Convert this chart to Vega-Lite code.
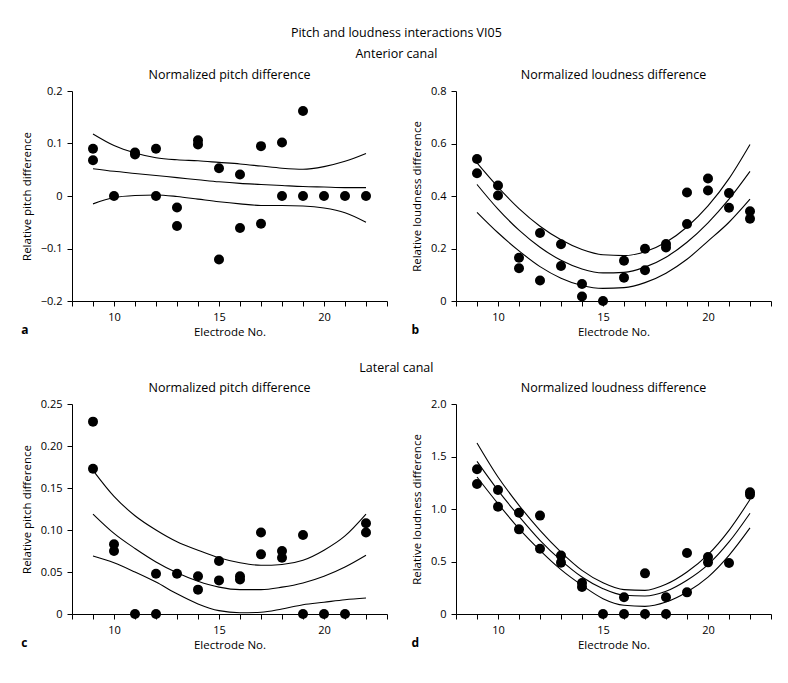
{
  "$schema": "https://vega.github.io/schema/vega-lite/v6.json",
  "padding": {"left": 21, "top": 26, "right": 5, "bottom": 5},
  "background": "white",
  "title": {"text": "Pitch and loudness interactions VI05", "anchor": "middle", "fontSize": 12.5, "fontWeight": "normal", "offset": 9},
  "config": {
    "font": "Open Sans",
    "view": {"stroke": null},
    "axis": {"grid": false, "domainColor": "black", "tickColor": "black", "labelColor": "black", "titleColor": "black", "titleFontWeight": "normal", "labelFontSize": 11, "titleFontSize": 11.5, "tickSize": 5, "labelPadding": 5, "labelFont": "Open Sans", "titleFont": "Open Sans", "domainWidth": 1, "tickWidth": 1},
    "axisY": {"titlePadding": 8},
    "title": {"font": "Open Sans", "fontSize": 12.5, "fontWeight": "normal", "color": "black", "anchor": "middle"}
  },
  "datasets": {
    "a_pts": [
      {"electrode": 9, "value": 0.090}, {"electrode": 9, "value": 0.068},
      {"electrode": 10, "value": 0},
      {"electrode": 11, "value": 0.083}, {"electrode": 11, "value": 0.079},
      {"electrode": 12, "value": 0.090}, {"electrode": 12, "value": 0},
      {"electrode": 13, "value": -0.022}, {"electrode": 13, "value": -0.057},
      {"electrode": 14, "value": 0.106}, {"electrode": 14, "value": 0.098},
      {"electrode": 15, "value": 0.053}, {"electrode": 15, "value": -0.121},
      {"electrode": 16, "value": 0.041}, {"electrode": 16, "value": -0.061},
      {"electrode": 17, "value": 0.095}, {"electrode": 17, "value": -0.053},
      {"electrode": 18, "value": 0.102}, {"electrode": 18, "value": 0},
      {"electrode": 19, "value": 0.162}, {"electrode": 19, "value": 0},
      {"electrode": 20, "value": 0},
      {"electrode": 21, "value": 0},
      {"electrode": 22, "value": 0}
    ],
    "a_fit": [
      {"electrode": 9, "value": 0.118, "band": "upper"}, {"electrode": 10, "value": 0.096, "band": "upper"}, {"electrode": 11, "value": 0.082, "band": "upper"}, {"electrode": 12, "value": 0.073, "band": "upper"}, {"electrode": 13, "value": 0.069, "band": "upper"}, {"electrode": 14, "value": 0.067, "band": "upper"}, {"electrode": 15, "value": 0.064, "band": "upper"}, {"electrode": 16, "value": 0.061, "band": "upper"}, {"electrode": 17, "value": 0.057, "band": "upper"}, {"electrode": 18, "value": 0.053, "band": "upper"}, {"electrode": 19, "value": 0.051, "band": "upper"}, {"electrode": 20, "value": 0.056, "band": "upper"}, {"electrode": 21, "value": 0.066, "band": "upper"}, {"electrode": 22, "value": 0.081, "band": "upper"},
      {"electrode": 9, "value": 0.052, "band": "mean"}, {"electrode": 10, "value": 0.047, "band": "mean"}, {"electrode": 11, "value": 0.043, "band": "mean"}, {"electrode": 12, "value": 0.039, "band": "mean"}, {"electrode": 13, "value": 0.035, "band": "mean"}, {"electrode": 14, "value": 0.031, "band": "mean"}, {"electrode": 15, "value": 0.027, "band": "mean"}, {"electrode": 16, "value": 0.024, "band": "mean"}, {"electrode": 17, "value": 0.022, "band": "mean"}, {"electrode": 18, "value": 0.020, "band": "mean"}, {"electrode": 19, "value": 0.018, "band": "mean"}, {"electrode": 20, "value": 0.017, "band": "mean"}, {"electrode": 21, "value": 0.016, "band": "mean"}, {"electrode": 22, "value": 0.016, "band": "mean"},
      {"electrode": 9, "value": -0.015, "band": "lower"}, {"electrode": 10, "value": -0.003, "band": "lower"}, {"electrode": 11, "value": 0.001, "band": "lower"}, {"electrode": 12, "value": 0.002, "band": "lower"}, {"electrode": 13, "value": -0.001, "band": "lower"}, {"electrode": 14, "value": -0.006, "band": "lower"}, {"electrode": 15, "value": -0.011, "band": "lower"}, {"electrode": 16, "value": -0.015, "band": "lower"}, {"electrode": 17, "value": -0.018, "band": "lower"}, {"electrode": 18, "value": -0.018, "band": "lower"}, {"electrode": 19, "value": -0.019, "band": "lower"}, {"electrode": 20, "value": -0.023, "band": "lower"}, {"electrode": 21, "value": -0.032, "band": "lower"}, {"electrode": 22, "value": -0.050, "band": "lower"}
    ],
    "b_pts": [
      {"electrode": 9, "value": 0.541}, {"electrode": 9, "value": 0.487},
      {"electrode": 10, "value": 0.440}, {"electrode": 10, "value": 0.402},
      {"electrode": 11, "value": 0.165}, {"electrode": 11, "value": 0.125},
      {"electrode": 12, "value": 0.259}, {"electrode": 12, "value": 0.078},
      {"electrode": 13, "value": 0.216}, {"electrode": 13, "value": 0.133},
      {"electrode": 14, "value": 0.065}, {"electrode": 14, "value": 0.017},
      {"electrode": 15, "value": 0},
      {"electrode": 16, "value": 0.153}, {"electrode": 16, "value": 0.089},
      {"electrode": 17, "value": 0.199}, {"electrode": 17, "value": 0.117},
      {"electrode": 18, "value": 0.217}, {"electrode": 18, "value": 0.204},
      {"electrode": 19, "value": 0.413}, {"electrode": 19, "value": 0.293},
      {"electrode": 20, "value": 0.467}, {"electrode": 20, "value": 0.421},
      {"electrode": 21, "value": 0.411}, {"electrode": 21, "value": 0.355},
      {"electrode": 22, "value": 0.342}, {"electrode": 22, "value": 0.313}
    ],
    "b_fit": [
      {"electrode": 9, "value": 0.526, "band": "upper"}, {"electrode": 10, "value": 0.434, "band": "upper"}, {"electrode": 11, "value": 0.352, "band": "upper"}, {"electrode": 12, "value": 0.285, "band": "upper"}, {"electrode": 13, "value": 0.233, "band": "upper"}, {"electrode": 14, "value": 0.196, "band": "upper"}, {"electrode": 15, "value": 0.176, "band": "upper"}, {"electrode": 16, "value": 0.173, "band": "upper"}, {"electrode": 17, "value": 0.188, "band": "upper"}, {"electrode": 18, "value": 0.224, "band": "upper"}, {"electrode": 19, "value": 0.282, "band": "upper"}, {"electrode": 20, "value": 0.362, "band": "upper"}, {"electrode": 21, "value": 0.466, "band": "upper"}, {"electrode": 22, "value": 0.596, "band": "upper"},
      {"electrode": 9, "value": 0.444, "band": "mean"}, {"electrode": 10, "value": 0.350, "band": "mean"}, {"electrode": 11, "value": 0.270, "band": "mean"}, {"electrode": 12, "value": 0.205, "band": "mean"}, {"electrode": 13, "value": 0.155, "band": "mean"}, {"electrode": 14, "value": 0.122, "band": "mean"}, {"electrode": 15, "value": 0.107, "band": "mean"}, {"electrode": 16, "value": 0.109, "band": "mean"}, {"electrode": 17, "value": 0.129, "band": "mean"}, {"electrode": 18, "value": 0.167, "band": "mean"}, {"electrode": 19, "value": 0.224, "band": "mean"}, {"electrode": 20, "value": 0.298, "band": "mean"}, {"electrode": 21, "value": 0.388, "band": "mean"}, {"electrode": 22, "value": 0.494, "band": "mean"},
      {"electrode": 9, "value": 0.338, "band": "lower"}, {"electrode": 10, "value": 0.260, "band": "lower"}, {"electrode": 11, "value": 0.191, "band": "lower"}, {"electrode": 12, "value": 0.131, "band": "lower"}, {"electrode": 13, "value": 0.087, "band": "lower"}, {"electrode": 14, "value": 0.059, "band": "lower"}, {"electrode": 15, "value": 0.048, "band": "lower"}, {"electrode": 16, "value": 0.051, "band": "lower"}, {"electrode": 17, "value": 0.070, "band": "lower"}, {"electrode": 18, "value": 0.106, "band": "lower"}, {"electrode": 19, "value": 0.159, "band": "lower"}, {"electrode": 20, "value": 0.228, "band": "lower"}, {"electrode": 21, "value": 0.300, "band": "lower"}, {"electrode": 22, "value": 0.388, "band": "lower"}
    ],
    "c_pts": [
      {"electrode": 9, "value": 0.229}, {"electrode": 9, "value": 0.173},
      {"electrode": 10, "value": 0.083}, {"electrode": 10, "value": 0.075},
      {"electrode": 11, "value": 0},
      {"electrode": 12, "value": 0.048}, {"electrode": 12, "value": 0},
      {"electrode": 13, "value": 0.048},
      {"electrode": 14, "value": 0.045}, {"electrode": 14, "value": 0.029},
      {"electrode": 15, "value": 0.063}, {"electrode": 15, "value": 0.040},
      {"electrode": 16, "value": 0.045}, {"electrode": 16, "value": 0.041},
      {"electrode": 17, "value": 0.097}, {"electrode": 17, "value": 0.071},
      {"electrode": 18, "value": 0.075}, {"electrode": 18, "value": 0.067},
      {"electrode": 19, "value": 0.094}, {"electrode": 19, "value": 0},
      {"electrode": 20, "value": 0},
      {"electrode": 21, "value": 0},
      {"electrode": 22, "value": 0.108}, {"electrode": 22, "value": 0.097}
    ],
    "c_fit": [
      {"electrode": 9, "value": 0.171, "band": "upper"}, {"electrode": 10, "value": 0.140, "band": "upper"}, {"electrode": 11, "value": 0.117, "band": "upper"}, {"electrode": 12, "value": 0.100, "band": "upper"}, {"electrode": 13, "value": 0.086, "band": "upper"}, {"electrode": 14, "value": 0.076, "band": "upper"}, {"electrode": 15, "value": 0.067, "band": "upper"}, {"electrode": 16, "value": 0.061, "band": "upper"}, {"electrode": 17, "value": 0.058, "band": "upper"}, {"electrode": 18, "value": 0.059, "band": "upper"}, {"electrode": 19, "value": 0.064, "band": "upper"}, {"electrode": 20, "value": 0.076, "band": "upper"}, {"electrode": 21, "value": 0.093, "band": "upper"}, {"electrode": 22, "value": 0.119, "band": "upper"},
      {"electrode": 9, "value": 0.119, "band": "mean"}, {"electrode": 10, "value": 0.096, "band": "mean"}, {"electrode": 11, "value": 0.078, "band": "mean"}, {"electrode": 12, "value": 0.062, "band": "mean"}, {"electrode": 13, "value": 0.049, "band": "mean"}, {"electrode": 14, "value": 0.039, "band": "mean"}, {"electrode": 15, "value": 0.032, "band": "mean"}, {"electrode": 16, "value": 0.029, "band": "mean"}, {"electrode": 17, "value": 0.029, "band": "mean"}, {"electrode": 18, "value": 0.032, "band": "mean"}, {"electrode": 19, "value": 0.037, "band": "mean"}, {"electrode": 20, "value": 0.045, "band": "mean"}, {"electrode": 21, "value": 0.056, "band": "mean"}, {"electrode": 22, "value": 0.070, "band": "mean"},
      {"electrode": 9, "value": 0.069, "band": "lower"}, {"electrode": 10, "value": 0.061, "band": "lower"}, {"electrode": 11, "value": 0.050, "band": "lower"}, {"electrode": 12, "value": 0.038, "band": "lower"}, {"electrode": 13, "value": 0.024, "band": "lower"}, {"electrode": 14, "value": 0.012, "band": "lower"}, {"electrode": 15, "value": 0.004, "band": "lower"}, {"electrode": 16, "value": 0.0015, "band": "lower"}, {"electrode": 17, "value": 0.002, "band": "lower"}, {"electrode": 18, "value": 0.006, "band": "lower"}, {"electrode": 19, "value": 0.011, "band": "lower"}, {"electrode": 20, "value": 0.014, "band": "lower"}, {"electrode": 21, "value": 0.017, "band": "lower"}, {"electrode": 22, "value": 0.019, "band": "lower"}
    ],
    "d_pts": [
      {"electrode": 9, "value": 1.378}, {"electrode": 9, "value": 1.238},
      {"electrode": 10, "value": 1.181}, {"electrode": 10, "value": 1.022},
      {"electrode": 11, "value": 0.965}, {"electrode": 11, "value": 0.806},
      {"electrode": 12, "value": 0.937}, {"electrode": 12, "value": 0.622},
      {"electrode": 13, "value": 0.556}, {"electrode": 13, "value": 0.489},
      {"electrode": 14, "value": 0.295}, {"electrode": 14, "value": 0.257},
      {"electrode": 15, "value": 0},
      {"electrode": 16, "value": 0.159}, {"electrode": 16, "value": 0},
      {"electrode": 17, "value": 0.387}, {"electrode": 17, "value": 0},
      {"electrode": 18, "value": 0.159}, {"electrode": 18, "value": 0},
      {"electrode": 19, "value": 0.581}, {"electrode": 19, "value": 0.206},
      {"electrode": 20, "value": 0.543}, {"electrode": 20, "value": 0.492},
      {"electrode": 21, "value": 0.486},
      {"electrode": 22, "value": 1.16}, {"electrode": 22, "value": 1.135}
    ],
    "d_fit": [
      {"electrode": 9, "value": 1.629, "band": "upper"}, {"electrode": 10, "value": 1.305, "band": "upper"}, {"electrode": 11, "value": 1.035, "band": "upper"}, {"electrode": 12, "value": 0.797, "band": "upper"}, {"electrode": 13, "value": 0.590, "band": "upper"}, {"electrode": 14, "value": 0.416, "band": "upper"}, {"electrode": 15, "value": 0.298, "band": "upper"}, {"electrode": 16, "value": 0.232, "band": "upper"}, {"electrode": 17, "value": 0.225, "band": "upper"}, {"electrode": 18, "value": 0.283, "band": "upper"}, {"electrode": 19, "value": 0.400, "band": "upper"}, {"electrode": 20, "value": 0.565, "band": "upper"}, {"electrode": 21, "value": 0.797, "band": "upper"}, {"electrode": 22, "value": 1.09, "band": "upper"},
      {"electrode": 9, "value": 1.454, "band": "mean"}, {"electrode": 10, "value": 1.178, "band": "mean"}, {"electrode": 11, "value": 0.930, "band": "mean"}, {"electrode": 12, "value": 0.702, "band": "mean"}, {"electrode": 13, "value": 0.511, "band": "mean"}, {"electrode": 14, "value": 0.352, "band": "mean"}, {"electrode": 15, "value": 0.241, "band": "mean"}, {"electrode": 16, "value": 0.178, "band": "mean"}, {"electrode": 17, "value": 0.171, "band": "mean"}, {"electrode": 18, "value": 0.216, "band": "mean"}, {"electrode": 19, "value": 0.321, "band": "mean"}, {"electrode": 20, "value": 0.470, "band": "mean"}, {"electrode": 21, "value": 0.686, "band": "mean"}, {"electrode": 22, "value": 0.96, "band": "mean"},
      {"electrode": 9, "value": 1.305, "band": "lower"}, {"electrode": 10, "value": 1.051, "band": "lower"}, {"electrode": 11, "value": 0.813, "band": "lower"}, {"electrode": 12, "value": 0.606, "band": "lower"}, {"electrode": 13, "value": 0.422, "band": "lower"}, {"electrode": 14, "value": 0.273, "band": "lower"}, {"electrode": 15, "value": 0.146, "band": "lower"}, {"electrode": 16, "value": 0.083, "band": "lower"}, {"electrode": 17, "value": 0.073, "band": "lower"}, {"electrode": 18, "value": 0.114, "band": "lower"}, {"electrode": 19, "value": 0.210, "band": "lower"}, {"electrode": 20, "value": 0.352, "band": "lower"}, {"electrode": 21, "value": 0.559, "band": "lower"}, {"electrode": 22, "value": 0.82, "band": "lower"}
    ]
  },
  "vconcat": [
    {
      "title": {"text": "Anterior canal", "anchor": "middle", "offset": 8},
      "spacing": 23,
      "hconcat": [
        {
          "title": {"text": "a", "orient": "bottom", "anchor": "start", "fontWeight": "bold", "fontSize": 12, "offset": -13},
          "vconcat": [
            {
              "width": 315, "height": 210,
              "title": {"text": "Normalized pitch difference", "offset": 4},
              "encoding": {
                "x": {"field": "electrode", "type": "quantitative", "scale": {"domain": [8, 23], "nice": false, "zero": false}, "axis": {"values": [8, 9, 10, 11, 12, 13, 14, 15, 16, 17, 18, 19, 20, 21, 22, 23], "labelExpr": "(datum.value == 10 || datum.value == 15 || datum.value == 20) ? format(datum.value, 'd') : ''", "labelOverlap": false, "title": "Electrode No."}},
                "y": {"field": "value", "type": "quantitative", "scale": {"domain": [-0.2, 0.2], "nice": false, "zero": false}, "axis": {"values": [-0.2, -0.1, 0, 0.1, 0.2], "labelExpr": "datum.value == 0 ? '0' : format(datum.value, '.1f')", "title": "Relative pitch difference"}}
              },
              "layer": [
                {
                  "data": {"name": "a_fit"},
                  "mark": {"type": "line", "color": "black", "strokeWidth": 1.1, "interpolate": "monotone"},
                  "encoding": {"detail": {"field": "band"}}
                },
                {
                  "data": {"name": "a_pts"},
                  "mark": {"type": "circle", "color": "black", "opacity": 1, "size": 100},
                  "encoding": {}
                }
              ]
            }
          ]
        },
        {
          "title": {"text": "b", "orient": "bottom", "anchor": "start", "fontWeight": "bold", "fontSize": 12, "offset": -13},
          "vconcat": [
            {
              "width": 315, "height": 210,
              "title": {"text": "Normalized loudness difference", "offset": 4},
              "encoding": {
                "x": {"field": "electrode", "type": "quantitative", "scale": {"domain": [8, 23], "nice": false, "zero": false}, "axis": {"values": [8, 9, 10, 11, 12, 13, 14, 15, 16, 17, 18, 19, 20, 21, 22, 23], "labelExpr": "(datum.value == 10 || datum.value == 15 || datum.value == 20) ? format(datum.value, 'd') : ''", "labelOverlap": false, "title": "Electrode No."}},
                "y": {"field": "value", "type": "quantitative", "scale": {"domain": [0, 0.8], "nice": false}, "axis": {"values": [0, 0.2, 0.4, 0.6, 0.8], "labelExpr": "datum.value == 0 ? '0' : format(datum.value, '.1f')", "title": "Relative loudness difference"}}
              },
              "layer": [
                {
                  "data": {"name": "b_fit"},
                  "mark": {"type": "line", "color": "black", "strokeWidth": 1.1, "interpolate": "monotone"},
                  "encoding": {"detail": {"field": "band"}}
                },
                {
                  "data": {"name": "b_pts"},
                  "mark": {"type": "circle", "color": "black", "opacity": 1, "size": 100},
                  "encoding": {}
                }
              ]
            }
          ]
        }
      ]
    },
    {
      "title": {"text": "Lateral canal", "anchor": "middle", "offset": 7},
      "spacing": 23,
      "hconcat": [
        {
          "title": {"text": "c", "orient": "bottom", "anchor": "start", "fontWeight": "bold", "fontSize": 12, "offset": -13},
          "vconcat": [
            {
              "width": 315, "height": 210,
              "title": {"text": "Normalized pitch difference", "offset": 4},
              "encoding": {
                "x": {"field": "electrode", "type": "quantitative", "scale": {"domain": [8, 23], "nice": false, "zero": false}, "axis": {"values": [8, 9, 10, 11, 12, 13, 14, 15, 16, 17, 18, 19, 20, 21, 22, 23], "labelExpr": "(datum.value == 10 || datum.value == 15 || datum.value == 20) ? format(datum.value, 'd') : ''", "labelOverlap": false, "title": "Electrode No."}},
                "y": {"field": "value", "type": "quantitative", "scale": {"domain": [0, 0.25], "nice": false}, "axis": {"values": [0, 0.05, 0.1, 0.15, 0.2, 0.25], "labelExpr": "datum.value == 0 ? '0' : format(datum.value, '.2f')", "title": "Relative pitch difference"}}
              },
              "layer": [
                {
                  "data": {"name": "c_fit"},
                  "mark": {"type": "line", "color": "black", "strokeWidth": 1.1, "interpolate": "monotone"},
                  "encoding": {"detail": {"field": "band"}}
                },
                {
                  "data": {"name": "c_pts"},
                  "mark": {"type": "circle", "color": "black", "opacity": 1, "size": 100},
                  "encoding": {}
                }
              ]
            }
          ]
        },
        {
          "title": {"text": "d", "orient": "bottom", "anchor": "start", "fontWeight": "bold", "fontSize": 12, "offset": -13},
          "vconcat": [
            {
              "width": 315, "height": 210,
              "title": {"text": "Normalized loudness difference", "offset": 4},
              "encoding": {
                "x": {"field": "electrode", "type": "quantitative", "scale": {"domain": [8, 23], "nice": false, "zero": false}, "axis": {"values": [8, 9, 10, 11, 12, 13, 14, 15, 16, 17, 18, 19, 20, 21, 22, 23], "labelExpr": "(datum.value == 10 || datum.value == 15 || datum.value == 20) ? format(datum.value, 'd') : ''", "labelOverlap": false, "title": "Electrode No."}},
                "y": {"field": "value", "type": "quantitative", "scale": {"domain": [0, 2], "nice": false}, "axis": {"values": [0, 0.5, 1, 1.5, 2], "labelExpr": "datum.value == 0 ? '0' : format(datum.value, '.1f')", "title": "Relative loudness difference"}}
              },
              "layer": [
                {
                  "data": {"name": "d_fit"},
                  "mark": {"type": "line", "color": "black", "strokeWidth": 1.1, "interpolate": "monotone"},
                  "encoding": {"detail": {"field": "band"}}
                },
                {
                  "data": {"name": "d_pts"},
                  "mark": {"type": "circle", "color": "black", "opacity": 1, "size": 100},
                  "encoding": {}
                }
              ]
            }
          ]
        }
      ]
    }
  ],
  "spacing": 24
}
